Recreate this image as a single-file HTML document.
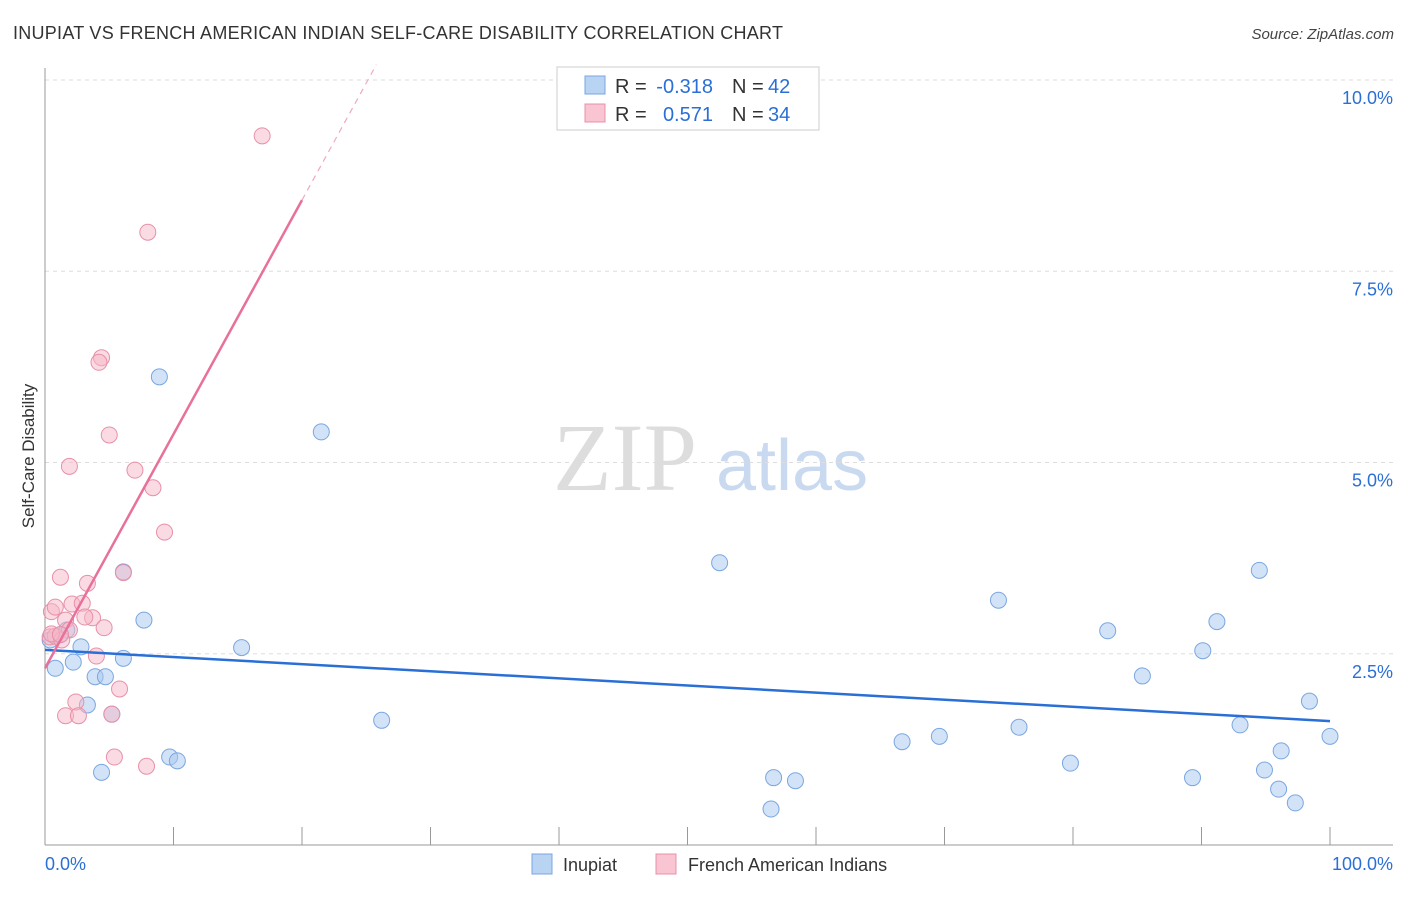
<!DOCTYPE html>
<html><head><meta charset="utf-8"><style>
body{margin:0;background:#fff;font-family:"Liberation Sans",sans-serif;}
</style></head><body>
<svg id="chart" width="1406" height="892" xmlns="http://www.w3.org/2000/svg" font-family="Liberation Sans, sans-serif">
<text x="13" y="39" font-size="18" fill="#333" textLength="770">INUPIAT VS FRENCH AMERICAN INDIAN SELF-CARE DISABILITY CORRELATION CHART</text>
<text x="1394" y="39" font-size="15" fill="#444" font-style="italic" text-anchor="end">Source: ZipAtlas.com</text>
<text transform="translate(34,456) rotate(-90)" font-size="17" fill="#333" text-anchor="middle">Self-Care Disability</text>
<g font-size="96">
<text x="553" y="490" fill="#ddd" font-family="Liberation Serif, serif">ZIP</text>
<text x="716" y="490" fill="#c9daf0" font-size="72">atlas</text></g>
<g id="grid"></g><g id="axes"></g><g id="marks"></g>
<g font-size="20">
<rect x="557" y="67" width="262" height="63" fill="#fff" stroke="#ccc"/>
<rect x="585" y="76" width="20" height="18" fill="#b9d3f3" stroke="#7aa6e0"/>
<rect x="585" y="104" width="20" height="18" fill="#f9c5d3" stroke="#e890a8"/>
<text x="615" y="93" fill="#333">R =</text>
<text x="713" y="93" fill="#2a6fd6" text-anchor="end">-0.318</text>
<text x="732" y="93" fill="#333">N =</text>
<text x="768" y="93" fill="#2a6fd6">42</text>
<text x="615" y="121" fill="#333">R =</text>
<text x="713" y="121" fill="#2a6fd6" text-anchor="end">0.571</text>
<text x="732" y="121" fill="#333">N =</text>
<text x="768" y="121" fill="#2a6fd6">34</text>
</g>
<g font-size="18" fill="#333">
<rect x="532" y="854" width="20" height="20" fill="#b9d3f3" stroke="#7aa6e0"/>
<text x="563" y="871">Inupiat</text>
<rect x="656" y="854" width="20" height="20" fill="#f9c5d3" stroke="#e890a8"/>
<text x="688" y="871">French American Indians</text>
</g>
</svg>
<script>
const yTicks=[2.5,5.0,7.5,10.0];
const yTickLabels=["2.5%","5.0%","7.5%","10.0%"];
const inupiatX=[0.8,2.2,1.7,2.8,3.3,3.9,4.7,4.4,5.2,6.1,6.1,7.7,8.9,9.7,10.3,15.3,21.5,26.2,52.5,56.7,58.4,56.5,66.7,69.6,74.2,75.8,79.8,82.7,85.4,89.3,90.1,91.2,93.0,94.5,94.9,96.2,96.0,97.3,98.4,100,0.4,1.2];
const inupiatY=[2.31,2.39,2.81,2.59,1.83,2.20,2.20,0.95,1.71,2.44,3.57,2.94,6.12,1.15,1.10,2.58,5.40,1.63,3.69,0.88,0.84,0.47,1.35,1.42,3.20,1.54,1.07,2.80,2.21,0.88,2.54,2.92,1.57,3.59,0.98,1.23,0.73,0.55,1.88,1.42,2.68,2.75];
const frenchX=[16.9,8.0,4.4,4.2,5.0,1.9,7.0,8.4,9.3,1.2,6.1,3.3,0.5,2.1,2.9,0.8,3.7,3.1,1.6,4.6,1.9,0.4,0.8,1.3,0.5,4.0,5.8,2.4,1.6,2.6,5.4,7.9,5.2,1.2];
const frenchY=[9.27,8.01,6.37,6.31,5.36,4.95,4.90,4.67,4.09,3.50,3.56,3.42,3.05,3.15,3.16,3.11,2.97,2.98,2.94,2.84,2.81,2.72,2.73,2.68,2.76,2.47,2.04,1.87,1.69,1.69,1.15,1.03,1.71,2.75];
const inupiatTrend=[2.55,1.62];
const frenchTrend=[2.31,8.43];
const NS="http://www.w3.org/2000/svg";
const xs=v=>45+v*12.85, ys=v=>845-v*76.5;
function mk(t,a,p){const e=document.createElementNS(NS,t);for(const k in a)e.setAttribute(k,a[k]);p.appendChild(e);return e;}
const grid=document.getElementById('grid'),axes=document.getElementById('axes'),marks=document.getElementById('marks');
yTicks.forEach((t,i)=>{
 const l=mk('line',{x1:45,x2:1393,y1:ys(t),y2:ys(t),stroke:'#ddd','stroke-dasharray':'4,4'},grid);
 
 
 const tx=mk('text',{x:1393,y:ys(t)+24,'font-size':18,fill:'#2a6fd6','text-anchor':'end'},axes);
 tx.textContent=yTickLabels[i];
 
 
});
let yl=mk('line',{x1:45,x2:45,y1:68,y2:845,stroke:'#999'},axes);


let xl=mk('line',{x1:45,x2:1393,y1:845,y2:845,stroke:'#999'},axes);


for(let i=0;i<=10;i++){const t=mk('line',{x1:xs(i*10),x2:xs(i*10),y1:827,y2:845,stroke:'#999'},axes);
 
 }
let a=mk('text',{x:45,y:870,'font-size':18,fill:'#2a6fd6'},axes);a.textContent='0.0%';


a=mk('text',{x:1393,y:870,'font-size':18,fill:'#2a6fd6','text-anchor':'end'},axes);a.textContent='100.0%';


inupiatX.forEach((x,i)=>{const c=mk('circle',{cx:xs(x),cy:ys(inupiatY[i]),r:8,fill:'rgba(168,200,240,0.5)',stroke:'#7aa6e0','stroke-width':1},marks);
 
 });
frenchX.forEach((x,i)=>{const c=mk('circle',{cx:xs(x),cy:ys(frenchY[i]),r:8,fill:'rgba(245,184,200,0.5)',stroke:'#e890a8','stroke-width':1},marks);
 
 });
let bl=mk('line',{x1:xs(0),y1:ys(inupiatTrend[0]),x2:xs(100),y2:ys(inupiatTrend[1]),stroke:'#2a6fd6','stroke-width':2.5},marks);


const slope=(frenchTrend[1]-frenchTrend[0])/20;
let pl=mk('line',{x1:xs(0),y1:ys(frenchTrend[0]),x2:xs(20),y2:ys(frenchTrend[1]),stroke:'#e8709a','stroke-width':2.5},marks);


const xe=(10.2-frenchTrend[0])/slope;
let pd=mk('line',{x1:xs(20),y1:ys(frenchTrend[1]),x2:xs(xe),y2:ys(frenchTrend[0]+slope*xe),stroke:'#f0a8c0','stroke-width':1.2,'stroke-dasharray':'6,5'},marks);


</script>
</body></html>
